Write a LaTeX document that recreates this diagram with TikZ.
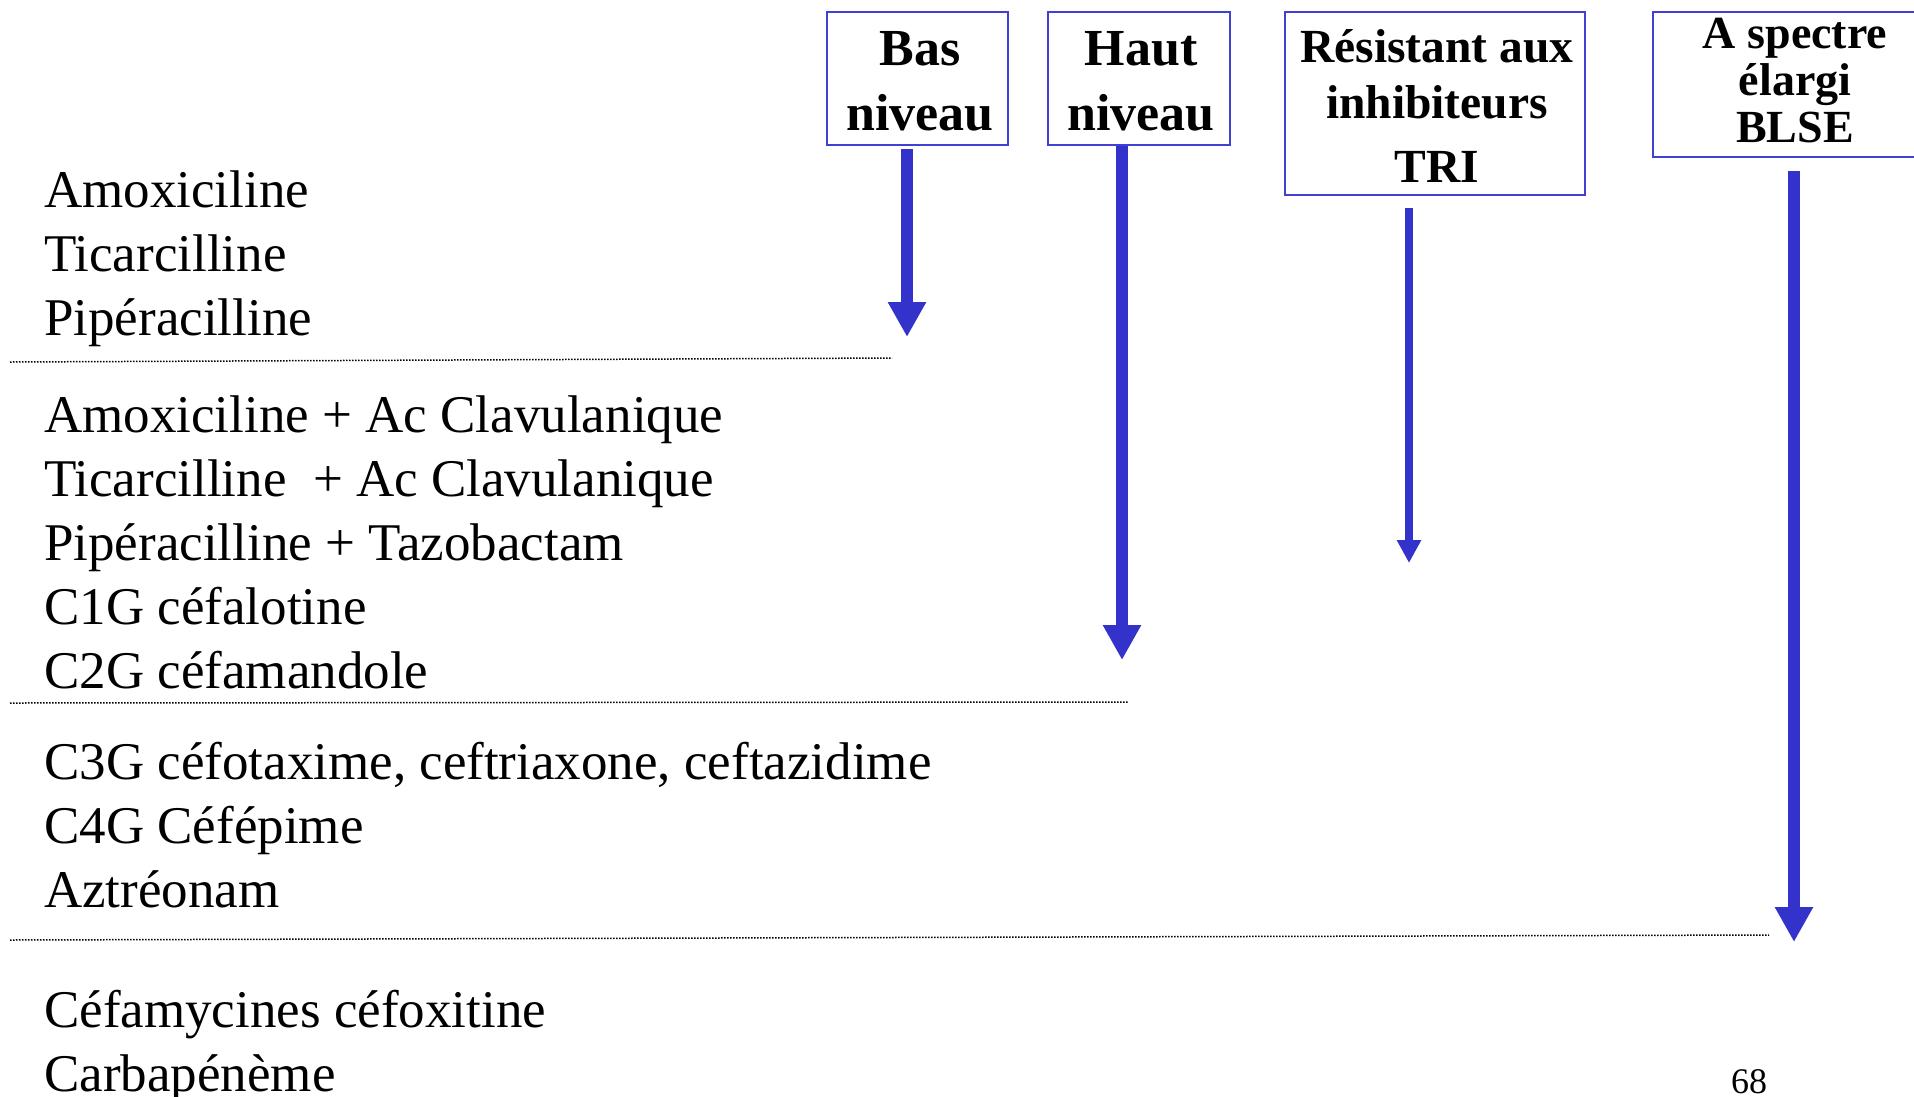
\documentclass[tikz,border=0pt]{standalone}
\usepackage{fontspec}
\setmainfont{Liberation Serif}
\usetikzlibrary{arrows.meta}
\definecolor{arrblue}{RGB}{51,51,204}
\definecolor{boxblue}{RGB}{64,64,210}
\begin{document}
\begin{tikzpicture}[x=1pt,y=-1pt,
  body/.style={anchor=base west, inner sep=0pt, font=\fontsize{53}{64}\selectfont},
  hdr/.style={anchor=base, inner sep=0pt, font=\fontsize{52}{60}\selectfont\bfseries},
  hdrm/.style={anchor=base, inner sep=0pt, font=\fontsize{47.5}{56}\selectfont\bfseries},
  hdrs/.style={anchor=base, inner sep=0pt, font=\fontsize{46}{50}\selectfont\bfseries},
  hbox/.style={draw=boxblue, line width=2pt, inner sep=0pt},
  arr/.style={draw=arrblue, line width=12pt, -{Triangle[width=36pt,length=35pt]}},
  arrthin/.style={draw=arrblue, line width=7.5pt, -{Triangle[width=23pt,length=23pt]}},
  sep/.style={draw=black, line width=1.5pt, dash pattern=on 1.5pt off 1.5pt}]
\useasboundingbox (0,0) rectangle (1914,1096);
\clip (0,0) rectangle (1914,1096);

% header boxes
\node[hbox, minimum width=181pt, minimum height=133pt] (b1) at (917.5,78.5) {};
\node[hbox, minimum width=182pt, minimum height=133pt] (b2) at (1139,78.5) {};
\node[hbox, minimum width=300pt, minimum height=183pt] (b3) at (1435,103.5) {};
\node[hbox, minimum width=284pt, minimum height=145pt] (b4) at (1795,84.5) {};

\node[hdr] (h1a) at (920,65) {Bas};
\node[hdr] (h1b) at (920,130) {niveau};
\node[hdr] (h2a) at (1141,65) {Haut};
\node[hdr] (h2b) at (1141,130) {niveau};
\node[hdrm] (h3a) at (1437,62) {Résistant aux};
\node[hdrm] (h3b) at (1437,118) {inhibiteurs};
\node[hdrm] (h3c) at (1437,182) {TRI};
\node[hdrs] (h4a) at (1795,48) {A spectre};
\node[hdrs] (h4b) at (1795,95) {élargi};
\node[hdrs] (h4c) at (1795,142) {BLSE};

% arrow tips
\coordinate (t1) at (907,337);
\coordinate (t2) at (1122,660);
\coordinate (t3) at (1409,563);
\coordinate (t4) at (1794,942);

\draw[arr] ([yshift=-3pt]b1.south -| t1) -- (t1);
\draw[arr] (b2.south -| t2) -- (t2);
\draw[arrthin] ([yshift=-12pt]b3.south -| t3) -- (t3);
\draw[arr] ([yshift=-13pt]b4.south -| t4) -- (t4);

% separators
\draw[sep] (10,362) -- (892,358);
\draw[sep] (10,703) -- (1128,702);
\draw[sep] (10,940) -- (1769,935);

% body text
\node[body] (l1) at (44,207) {Amoxiciline};
\node[body] (l2) at (44,271) {Ticarcilline};
\node[body] (l3) at (44,335) {Pipéracilline};
\node[body] (l4) at (44,432) {Amoxiciline + Ac Clavulanique};
\node[body] (l5) at (44,496) {Ticarcilline~~+ Ac Clavulanique};
\node[body] (l6) at (44,560) {Pipéracilline + Tazobactam};
\node[body] (l7) at (44,624) {C1G céfalotine};
\node[body] (l8) at (44,688) {C2G céfamandole};
\node[body] (l9) at (44,779) {C3G céfotaxime, ceftriaxone, ceftazidime};
\node[body] (l10) at (44,843) {C4G Céfépime};
\node[body] (l11) at (44,907) {Aztréonam};
\node[body] (l12) at (44,1027) {Céfamycines céfoxitine};
\node[body] (l13) at (44,1091) {Carbapénème};

\node[anchor=base west, inner sep=0pt, font=\fontsize{36}{40}\selectfont] (pg) at (1731,1093) {68};
\end{tikzpicture}
\end{document}
